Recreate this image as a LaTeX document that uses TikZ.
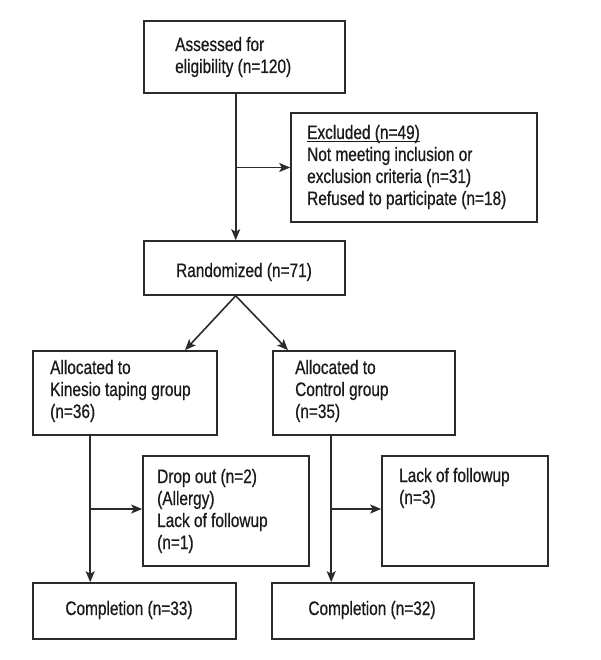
\documentclass[tikz,border=0pt]{standalone}
\usepackage{fontspec}
\setmainfont[FakeStretch=0.79,FakeBold=0.6]{Liberation Sans}
\usetikzlibrary{arrows.meta}
\definecolor{linec}{HTML}{2B2B2B}
\definecolor{textc}{HTML}{1A1A1A}
\newcommand\ulx[1]{\setbox0\hbox{#1}\rlap{\rule[-3pt]{\wd0}{1pt}}\box0}
\newcommand\lines[1]{\begin{tabular}[t]{@{}l@{}}#1\end{tabular}}
\begin{document}
\begin{tikzpicture}[x=1pt,y=-1pt,
  font=\fontsize{19.5}{22}\selectfont, text=textc,
  box/.style={draw=linec, line width=1.6pt, inner sep=0pt, fill=white},
  txt/.style={anchor=base west, inner sep=0pt},
  ctxt/.style={anchor=base, inner sep=0pt},
  arr/.style={draw=linec, line width=1.6pt, -{Stealth[length=11pt,width=9pt,inset=2.5pt]}},
  ln/.style={draw=linec, line width=1.6pt}]
\useasboundingbox (0,0) rectangle (600,660);
% boxes
\node[box, minimum width=201pt, minimum height=72pt]  (b1)    at (244.5,57)  {};
\node[box, minimum width=246pt, minimum height=109pt] (ex)    at (414,167.5) {};
\node[box, minimum width=201pt, minimum height=54pt]  (rand)  at (244.5,268) {};
\node[box, minimum width=184pt, minimum height=84pt]  (kin)   at (125,393)   {};
\node[box, minimum width=182pt, minimum height=84pt]  (ctl)   at (364,393)   {};
\node[box, minimum width=166pt, minimum height=110pt] (drop)  at (226,511)   {};
\node[box, minimum width=166pt, minimum height=110pt] (lack)  at (465,511)   {};
\node[box, minimum width=203pt, minimum height=56pt]  (comp1) at (134.5,611) {};
\node[box, minimum width=202pt, minimum height=56pt]  (comp2) at (373,611)   {};
% texts
\node[txt] (t1) at (175,51) {\lines{Assessed for\\eligibility (n=120)}};
\node[txt] (tex) at (307,139) {\lines{\ulx{Excluded (n=49)}\\Not meeting inclusion or\\exclusion criteria (n=31)\\Refused to participate (n=18)}};
\node[ctxt] (trand) at (244,277) {Randomized (n=71)};
\node[txt] (tkin) at (50,374) {\lines{Allocated to\\Kinesio taping group\\(n=36)}};
\node[txt] (tctl) at (295,374) {\lines{Allocated to\\Control group\\(n=35)}};
\node[txt] (tdrop) at (157,483) {\lines{Drop out (n=2)\\(Allergy)\\Lack of followup\\(n=1)}};
\node[txt] (tlack) at (399,482) {\lines{Lack of followup\\(n=3)}};
\node[ctxt] (tc1) at (129,615) {Completion (n=33)};
\node[ctxt] (tc2) at (372,615) {Completion (n=32)};
% connectors
\coordinate (j1) at ([xshift=92.5pt]b1.south west);
\coordinate (j1b) at ([xshift=92.5pt]rand.north west);
\draw[arr] (j1) -- (j1b);
\draw[arr] (ex.west -| j1) -- (ex.west);
\coordinate (r0) at ([xshift=92.5pt]rand.south west);
\draw[arr] (r0) -- ([xshift=60pt]kin.north);
\draw[arr] (r0) -- ([xshift=-76pt]ctl.north);
\coordinate (k0) at ([xshift=58pt]kin.south west);
\draw[arr] (k0) -- (k0 |- comp1.north);
\draw[arr] ([yshift=2pt]drop.west -| k0) -- ([yshift=2pt]drop.west);
\coordinate (c0) at ([xshift=59pt]ctl.south west);
\draw[arr] (c0) -- (c0 |- comp2.north);
\draw[arr] ([yshift=2pt]lack.west -| c0) -- ([yshift=2pt]lack.west);
\end{tikzpicture}
\end{document}
